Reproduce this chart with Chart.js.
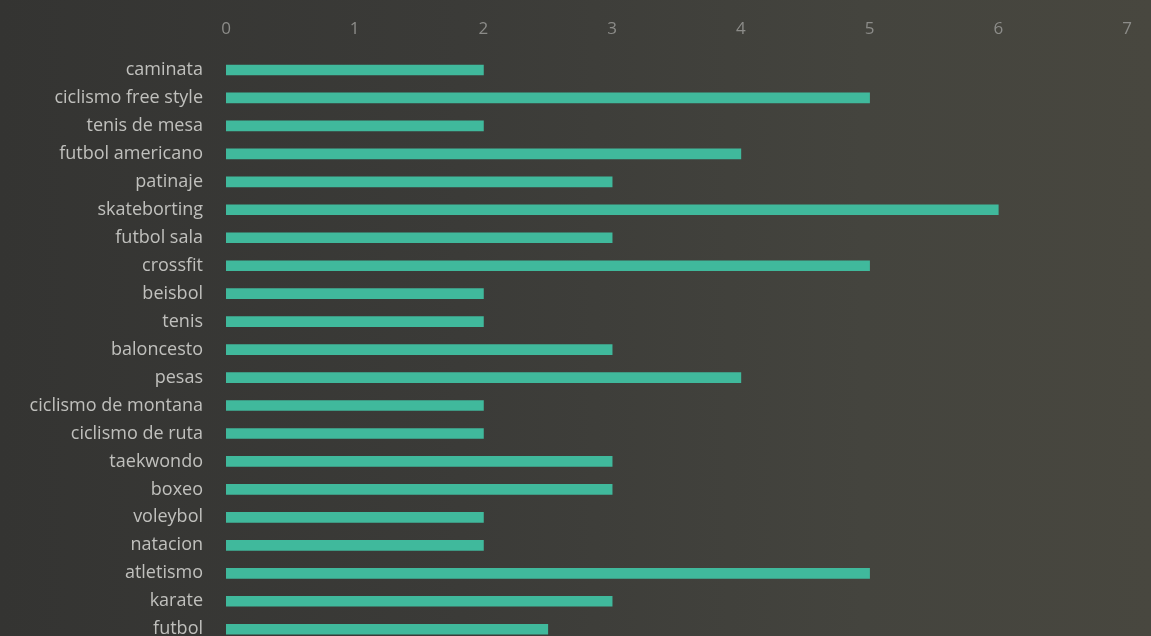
<!DOCTYPE html>
<html>
<head>
<meta charset="utf-8">
<script src="https://cdn.jsdelivr.net/npm/chart.js@4/dist/chart.umd.min.js"></script>
<style>
  html, body { margin: 0; padding: 0; overflow: hidden; }
  body {
    width: 1151px; height: 636px;
    background: linear-gradient(90deg, #343432 0%, #3b3b38 40%, #44443e 75%, #48473f 100%);
  }
  #chart { display: block; }
</style>
</head>
<body>
<canvas id="chart" width="1151" height="677"></canvas>
<script>
// deportes y cantidad
const categories = [
  "caminata", "ciclismo free style", "tenis de mesa", "futbol americano", "patinaje",
  "skateborting", "futbol sala", "crossfit", "beisbol", "tenis", "baloncesto", "pesas",
  "ciclismo de montana", "ciclismo de ruta", "taekwondo", "boxeo", "voleybol",
  "natacion", "atletismo", "karate", "futbol"
];
const values = [2, 5, 2, 4, 3, 6, 3, 5, 2, 2, 3, 4, 2, 2, 3, 3, 2, 2, 5, 3, 2.5];
const xTicks = [0, 1, 2, 3, 4, 5, 6, 7];

const barColor = "#40b99c";

new Chart(document.getElementById("chart"), {
  type: "bar",
  data: {
    labels: categories,
    datasets: [{
      data: values,
      backgroundColor: barColor,
      borderWidth: 0,
      barThickness: 10
    }]
  },
  options: {
    indexAxis: "y",
    responsive: false,
    animation: false,
    layout: { padding: { top: 0, right: 24, bottom: 0, left: 0 } },
    plugins: {
      legend: { display: false },
      tooltip: { enabled: false }
    },
    scales: {
      x: {
        position: "top",
        min: 0,
        max: 7,
        afterBuildTicks: (axis) => { axis.ticks = xTicks.map(v => ({ value: v })) },
        afterFit: (axis) => { axis.height = 56 },
        grid: { display: false, drawTicks: false },
        border: { display: false },
        ticks: {
          color: "#8c8c89",
          padding: 17,
          font: { family: "Open Sans", size: 17 }
        }
      },
      y: {
        afterFit: (axis) => { axis.width = 226 },
        grid: { display: false, drawTicks: false },
        border: { display: false },
        ticks: {
          color: "#c0c0bd",
          padding: 23,
          autoSkip: false,
          font: { family: "Open Sans", size: 18 }
        }
      }
    }
  }
});
</script>
</body>
</html>
